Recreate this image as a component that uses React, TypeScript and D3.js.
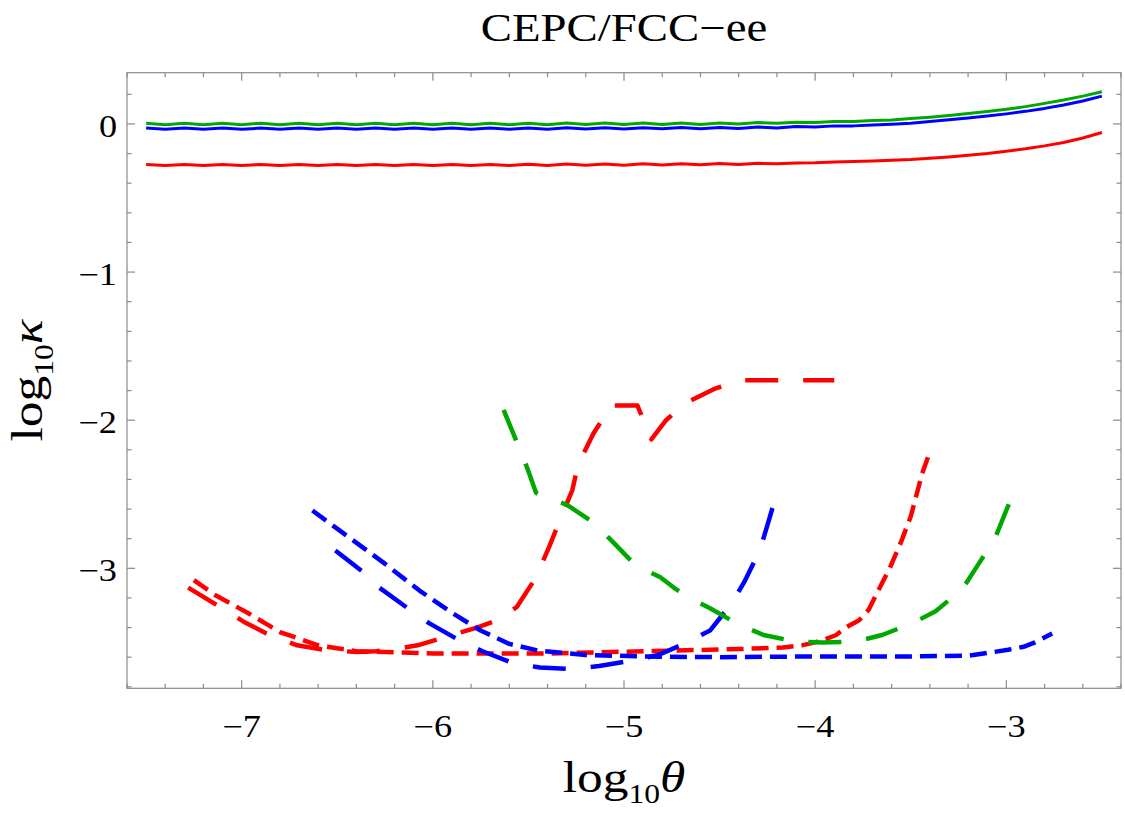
import React from 'react';
import * as d3 from 'd3';

// solid curves, sampled on a common theta grid
const solidX = [
  -7.5, -7.4, -7.3, -7.2, -7.1, -7.0, -6.9, -6.8, -6.7, -6.6,
  -6.5, -6.4, -6.3, -6.2, -6.1, -6.0, -5.9, -5.8, -5.7, -5.6,
  -5.5, -5.4, -5.3, -5.2, -5.1, -5.0, -4.9, -4.8, -4.7, -4.6,
  -4.5, -4.4, -4.3, -4.2, -4.1, -4.0, -3.9, -3.8, -3.7, -3.6,
  -3.5, -3.4, -3.3, -3.2, -3.1, -3.0, -2.9, -2.8, -2.7, -2.6, -2.5,
];
const greenSolid = [
  0.005, -0.005, 0.005, -0.005, 0.005, -0.005, 0.005, -0.005, 0.005, -0.005,
  0.005, -0.005, 0.005, -0.005, 0.005, -0.005, 0.005, -0.005, 0.005, -0.005,
  0.005, -0.005, 0.006, -0.004, 0.006, -0.004, 0.006, -0.004, 0.007, -0.003,
  0.007, 0.0, 0.009, 0.004, 0.012, 0.009, 0.017, 0.016, 0.024, 0.027,
  0.037, 0.046, 0.057, 0.07, 0.084, 0.099, 0.117, 0.139, 0.162, 0.188, 0.217,
];
const blueSolid = [
  -0.028, -0.036, -0.028, -0.036, -0.028, -0.036, -0.028, -0.036, -0.028, -0.036,
  -0.028, -0.036, -0.028, -0.036, -0.028, -0.036, -0.028, -0.036, -0.028, -0.036,
  -0.027, -0.035, -0.026, -0.034, -0.026, -0.034, -0.025, -0.033, -0.024, -0.032,
  -0.024, -0.031, -0.021, -0.027, -0.018, -0.021, -0.013, -0.013, -0.007, -0.002,
  0.005, 0.016, 0.028, 0.04, 0.053, 0.068, 0.085, 0.105, 0.128, 0.155, 0.188,
];
const redSolid = [
  -0.273, -0.281, -0.273, -0.281, -0.273, -0.281, -0.273, -0.281, -0.273, -0.281,
  -0.273, -0.281, -0.273, -0.281, -0.273, -0.281, -0.273, -0.281, -0.273, -0.281,
  -0.272, -0.28, -0.271, -0.279, -0.27, -0.278, -0.269, -0.277, -0.268, -0.276,
  -0.267, -0.273, -0.266, -0.269, -0.263, -0.262, -0.257, -0.254, -0.25, -0.245,
  -0.24, -0.232, -0.223, -0.212, -0.2, -0.185, -0.168, -0.148, -0.125, -0.095, -0.058,
];

// dashed curves
const redShortX = [-7.25, -7.14, -6.97, -6.8, -6.6, -6.4, -6.0, -5.4, -4.9, -4.4, -4.17, -4.07, -4.0, -3.95, -3.89, -3.84, -3.77, -3.72, -3.67, -3.61, -3.55, -3.5, -3.44, -3.41];
const redShortY = [-3.08, -3.18, -3.3, -3.43, -3.52, -3.56, -3.575, -3.575, -3.56, -3.545, -3.535, -3.52, -3.5, -3.48, -3.45, -3.4, -3.35, -3.28, -3.15, -3.0, -2.82, -2.65, -2.36, -2.25];

const redLongX = [-7.28, -7.14, -6.99, -6.87, -6.71, -6.57, -6.4, -6.3, -6.2, -6.08, -5.95, -5.77, -5.66, -5.56, -5.46, -5.39, -5.34, -5.27, -5.24, -5.16, -5.09, -5.07, -4.93, -4.857, -4.78, -4.68, -4.52, -4.39, -3.9];
const redLongY = [-3.13, -3.24, -3.36, -3.44, -3.52, -3.55, -3.565, -3.56, -3.545, -3.52, -3.47, -3.4, -3.35, -3.26, -3.06, -2.85, -2.69, -2.47, -2.3, -2.09, -1.95, -1.9, -1.9, -2.13, -2.0, -1.886, -1.785, -1.73, -1.73];

const blueShortX = [-6.63, -6.45, -6.26, -6.07, -5.9, -5.75, -5.6, -5.45, -5.2, -4.9, -4.5, -4.0, -3.5, -3.2, -3.09, -2.99, -2.91, -2.85, -2.76];
const blueShortY = [-2.61, -2.78, -2.96, -3.15, -3.3, -3.42, -3.51, -3.555, -3.585, -3.595, -3.6, -3.595, -3.595, -3.59, -3.57, -3.55, -3.53, -3.5, -3.44];

const blueLongX = [-6.51, -6.37, -6.28, -6.12, -6.02, -5.87, -5.74, -5.58, -5.44, -5.27, -5.13, -4.95, -4.82, -4.67, -4.55, -4.43, -4.37, -4.29, -4.25, -4.2];
const blueLongY = [-2.88, -3.02, -3.13, -3.28, -3.37, -3.48, -3.56, -3.64, -3.67, -3.68, -3.66, -3.62, -3.585, -3.5, -3.42, -3.225, -3.09, -2.88, -2.71, -2.49];

const greenLongX = [-5.63, -5.56, -5.51, -5.46, -5.43, -5.3, -5.15, -5.06, -4.94, -4.81, -4.74, -4.67, -4.55, -4.4, -4.27, -4.1, -3.96, -3.79, -3.65, -3.49, -3.37, -3.23, -3.15, -3.06, -3.01, -2.94];
const greenLongY = [-1.93, -2.15, -2.31, -2.49, -2.51, -2.57, -2.7, -2.82, -2.98, -3.06, -3.13, -3.19, -3.27, -3.38, -3.45, -3.495, -3.5, -3.495, -3.45, -3.37, -3.29, -3.14, -2.98, -2.8, -2.64, -2.42];

const xTicks = [-7, -6, -5, -4, -3];
const yTicks = [0, -1, -2, -3];

const RED = '#ff0000';
const BLUE = '#0000ff';
const GREEN = '#00a800';
const FRAME = '#8a8a8a';
const FONT = '"Liberation Serif", "DejaVu Serif", serif';
const SHORT_DASH = '17,8';
const LONG_DASH = '33,25';

const W = 1125;
const H = 815;

export default function App() {
  const x = d3.scaleLinear().domain([-7.6, -2.4]).range([127, 1121]);
  const y = d3.scaleLinear().domain([0.346, -3.81]).range([72.7, 688.3]);
  const [x0, x1] = x.range();
  const [y0, y1] = y.range();

  const line = d3.line<[number, number]>()
    .x(d => x(d[0]))
    .y(d => y(d[1]));

  const zip = (xs: number[], ys: number[]) => xs.map((v, i) => [v, ys[i]] as [number, number]);

  const solid = [
    { ys: redSolid, color: RED },
    { ys: blueSolid, color: BLUE },
    { ys: greenSolid, color: GREEN },
  ];
  const dashed = [
    { xs: redShortX, ys: redShortY, color: RED, dash: SHORT_DASH },
    { xs: redLongX, ys: redLongY, color: RED, dash: LONG_DASH },
    { xs: blueShortX, ys: blueShortY, color: BLUE, dash: SHORT_DASH },
    { xs: blueLongX, ys: blueLongY, color: BLUE, dash: LONG_DASH },
    { xs: greenLongX, ys: greenLongY, color: GREEN, dash: LONG_DASH },
  ];

  const xMinor = d3.range(-7.6, -2.39, 0.2).map(v => Math.round(v * 10) / 10);
  const yMinor = d3.range(-3.8, 0.35, 0.2).map(v => Math.round(v * 10) / 10);
  const isMajor = (v: number) => Math.abs(v - Math.round(v)) < 1e-6;

  const SX = 1.17; // text runs a bit wider than Liberation Serif

  return (
    <svg width={W} height={H} style={{ position: 'absolute', left: 0, top: 0, background: '#fff' }}
      fontFamily={FONT}>
      <rect x={0} y={0} width={W} height={H} fill="#fff" />

      {/* curves */}
      <g fill="none" strokeLinejoin="round">
        {solid.map((s, i) => (
          <path key={'s' + i} d={line(zip(solidX, s.ys)) || ''} stroke={s.color} strokeWidth={3} />
        ))}
        {dashed.map((s, i) => (
          <path key={'d' + i} d={line(zip(s.xs, s.ys)) || ''} stroke={s.color}
            strokeWidth={4.5} strokeDasharray={s.dash} strokeLinecap="butt" />
        ))}
      </g>

      {/* frame + ticks */}
      <g stroke={FRAME} strokeWidth={1.2}>
        <rect x={x0} y={y0} width={x1 - x0} height={y1 - y0} fill="none" />
        {xMinor.map(v => {
          const len = isMajor(v) ? 8 : 4.5;
          return (
            <g key={'xt' + v}>
              <line x1={x(v)} x2={x(v)} y1={y1} y2={y1 - len} />
              <line x1={x(v)} x2={x(v)} y1={y0} y2={y0 + len} />
            </g>
          );
        })}
        {yMinor.map(v => {
          const len = isMajor(v) ? 8 : 4.5;
          return (
            <g key={'yt' + v}>
              <line x1={x0} x2={x0 + len} y1={y(v)} y2={y(v)} />
              <line x1={x1} x2={x1 - len} y1={y(v)} y2={y(v)} />
            </g>
          );
        })}
      </g>

      {/* tick labels */}
      <g fontSize={31} fill="#000">
        {xTicks.map(v => (
          <text key={'xl' + v} transform={`translate(${x(v)},737) scale(${SX},1)`} textAnchor="middle">
            {'\u2212' + Math.abs(v)}
          </text>
        ))}
        {yTicks.map(v => (
          <text key={'yl' + v} transform={`translate(117,${y(v) + 13}) scale(${SX},1)`} textAnchor="end">
            {v === 0 ? '0' : '\u2212' + Math.abs(v)}
          </text>
        ))}
      </g>

      {/* title */}
      <text transform={`translate(${(x0 + x1) / 2},41) scale(${SX},1)`} textAnchor="middle" fontSize={40}>
        CEPC/FCC{'\u2212'}ee
      </text>

      {/* axis labels */}
      <text transform={`translate(${(x0 + x1) / 2},792) scale(${SX},1)`} textAnchor="middle" fontSize={44}>
        log<tspan fontSize={27} dy={11}>10</tspan><tspan dy={-11} fontStyle="italic">θ</tspan>
      </text>
      <text transform={`translate(42,${(y0 + y1) / 2}) rotate(-90) scale(${SX},1)`} textAnchor="middle" fontSize={44}>
        log<tspan fontSize={27} dy={11}>10</tspan><tspan dy={-11} fontStyle="italic">κ</tspan>
      </text>
    </svg>
  );
}
